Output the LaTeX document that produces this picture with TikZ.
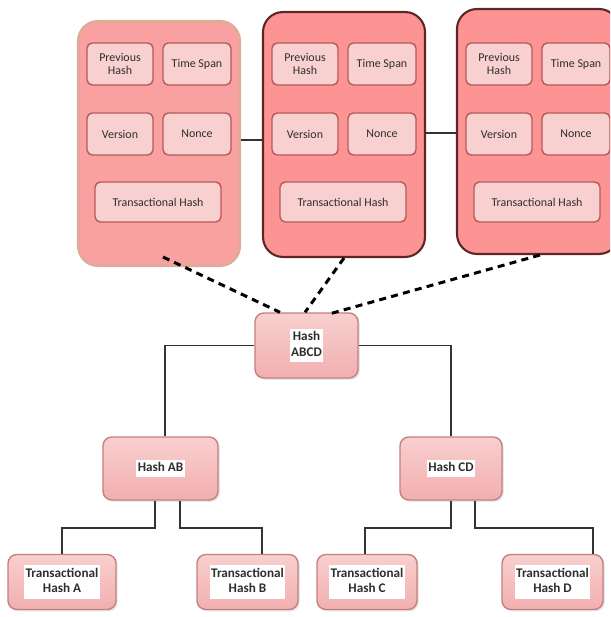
\documentclass[tikz,border=0pt]{standalone}
\usepackage{fontspec}
\setmainfont{Carlito}
\usetikzlibrary{positioning, shadows}
\usepackage{xcolor}
\definecolor{blkfill}{HTML}{FC9494}
\definecolor{blkfillA}{HTML}{F9A0A0}
\definecolor{blkedge}{HTML}{5E2626}
\definecolor{blkedgeA}{HTML}{D9AE96}
\definecolor{fldfill}{HTML}{F8D0D0}
\definecolor{fldedge}{HTML}{B65A5A}
\definecolor{treetop}{HTML}{F9CFCF}
\definecolor{treebot}{HTML}{F2AFAF}
\definecolor{treeedge}{HTML}{C47F7F}
\definecolor{txtgray}{HTML}{2E2E2E}
\definecolor{linegray}{HTML}{333333}
\newcommand{\hlwhite}[1]{{\setlength{\fboxsep}{0.8pt}\colorbox{white}{\begin{tabular}{@{}c@{}}#1\end{tabular}}}}

\tikzset{
  block/.style={rounded corners=0.4cm, line width=1.2pt, minimum width=3.24cm, minimum height=4.9cm},
  field/.style={rounded corners=3pt, draw=fldedge, fill=fldfill, line width=0.8pt, minimum height=0.84cm,
    align=center, text=txtgray, font=\fontsize{6.8}{7.6}\selectfont, inner sep=1pt},
  treebox/.style={rounded corners=5pt, draw=treeedge, top color=treetop, bottom color=treebot, line width=0.8pt,
    align=center, text=txtgray, font=\fontsize{7.5}{8.6}\selectfont\bfseries, inner sep=1pt,
    drop shadow={opacity=0.2, shadow xshift=1pt, shadow yshift=-1pt}},
  link/.style={linegray, line width=1.1pt},
  chainlink/.style={draw=black, dash pattern=on 4pt off 3pt, line width=1.7pt}
}

\begin{document}
\begin{tikzpicture}[x=0.02cm, y=-0.02cm]
  \useasboundingbox (0,0) rectangle (610,617);
  \clip (0,0) rectangle (610,617);

  % block headers
  \foreach \i/\L/\cy/\bf/\bc in {1/78/143.5/blkfillA/blkedgeA, 2/263/134.5/blkfill/blkedge, 3/457/131.5/blkfill/blkedge} {
    \node[block, fill=\bf, draw=\bc] (blk\i) at (\L+81,\cy) {};
    \node[field, minimum width=1.32cm] (prev\i) at (\L+42,64) {Previous\\Hash};
    \node[field, minimum width=1.36cm] (span\i) at (\L+119,64) {Time Span};
    \node[field, minimum width=1.32cm] (ver\i) at (\L+42,134) {Version};
    \node[field, minimum width=1.36cm] (nonce\i) at (\L+119,134) {Nonce};
    \node[field, minimum width=2.52cm, minimum height=0.8cm] (txh\i) at (\L+80,202) {Transactional Hash};
  }
  \draw[link] (blk1.east |- 0,140) -- (blk2.west |- 0,140);
  \draw[link] (blk2.east |- 0,133) -- (blk3.west |- 0,133);

  % merkle tree
  \node[treebox, minimum width=2.06cm, minimum height=1.3cm] (abcd) at (306.5,345.5) {\hlwhite{Hash\\ABCD}};
  \node[treebox, minimum width=2.3cm, minimum height=1.26cm] (ab) at (160.5,468.5) {\hlwhite{Hash AB}};
  \node[treebox, minimum width=2.04cm, minimum height=1.26cm] (cd) at (451,468.5) {\hlwhite{Hash CD}};
  \node[treebox, minimum width=2.16cm, minimum height=1.1cm] (txa) at (62,582) {\hlwhite{Transactional\\Hash A}};
  \node[treebox, minimum width=2.02cm, minimum height=1.1cm] (txb) at (247.5,582) {\hlwhite{Transactional\\Hash B}};
  \node[treebox, minimum width=2cm, minimum height=1.1cm] (txc) at (367,582) {\hlwhite{Transactional\\Hash C}};
  \node[treebox, minimum width=2.02cm, minimum height=1.1cm] (txd) at (552.5,582) {\hlwhite{Transactional\\Hash D}};

  \draw[link] (abcd.west) -| ([xshift=0.09cm]ab.north);
  \draw[link] (abcd.east) -| (cd.north);
  \draw[link] ([xshift=-0.11cm]ab.south) -- ++(0,27) -| (txa.north);
  \draw[link] ([xshift=0.39cm]ab.south) -- ++(0,27) -| ([xshift=0.29cm]txb.north);
  \draw[link] (cd.south) -- ++(0,27) -| ([xshift=-0.04cm]txc.north);
  \draw[link] ([xshift=0.48cm]cd.south) -- ++(0,27) -| ([xshift=0.81cm]txd.north);

  % dashed links from blocks to root
  \draw[chainlink] ([xshift=0.08cm, yshift=0.2cm]blk1.south) -- ([xshift=-0.53cm]abcd.north);
  \draw[chainlink] (blk2.south) -- ([xshift=-0.03cm]abcd.north);
  \draw[chainlink] ([xshift=0.04cm]blk3.south) -- ([xshift=0.43cm, yshift=-0.04cm]abcd.north);
\end{tikzpicture}
\end{document}
